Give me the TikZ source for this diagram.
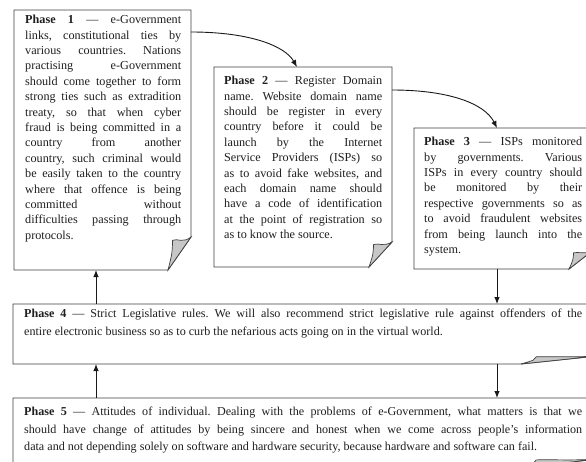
\documentclass[tikz,border=0pt]{standalone}
\usepackage{fontspec}
\setmainfont{Liberation Serif}
\usetikzlibrary{calc,arrows.meta}
\newcommand\curlbox[3]{%
  \draw[outline] (#1.north west) -- (#1.north east) -- ($(#1.south east)+(0pt,#3pt)$) -- ($(#1.south east)+(-#2pt,0pt)$) -- (#1.south west) -- cycle;
  \draw[foldfill] ($(#1.south east)+(-#2pt,0pt)$) -- ($(#1.south east)+(0pt,#3pt)$)
     .. controls ($(#1.south east)+(-0.35*#2pt,0.8*#3pt)$) and ($(#1.south east)+(-0.6*#2pt,0.97*#3pt)$) .. ($(#1.south east)+(-0.8*#2pt,0.9*#3pt)$)
     .. controls ($(#1.south east)+(-0.82*#2pt,0.5*#3pt)$) .. cycle;
}
\begin{document}
\frenchspacing
\begin{tikzpicture}[x=1pt,y=-1pt,
  boxframe/.style={draw=none, fill=none, inner sep=0pt, outer sep=0pt, anchor=north west},
  boxtext/.style={inner sep=0pt, anchor=north west, align=justify, font=\fontsize{12.2}{15.4}\selectfont, text=black!88},
  widetext/.style={boxtext, font=\fontsize{12.1}{17.5}\selectfont},
  outline/.style={draw=black!75, line width=0.9pt, fill=white},
  foldfill/.style={draw=black!75, line width=0.7pt, fill=black!22},
  conn/.style={draw=black!90, line width=0.9pt, -{Latex[length=7pt,width=5.5pt]}},
]
\useasboundingbox (0,0) rectangle (586,461);
\clip (0,0) rectangle (586,461);
\fill[white] (0,0) rectangle (586,461);

% box frames
\node[boxframe, minimum width=177pt, minimum height=260pt] (p1) at (14,10) {};
\node[boxframe, minimum width=178pt, minimum height=200pt] (p2) at (214,67) {};
\node[boxframe, minimum width=178pt, minimum height=141pt] (p3) at (414,128) {};
\node[boxframe, minimum width=584pt, minimum height=60pt] (p4) at (13,304) {};
\node[boxframe, minimum width=584pt, minimum height=70pt] (p5) at (13,398) {};

\curlbox{p1}{23}{33}
\curlbox{p2}{23}{25}
\curlbox{p3}{23}{18}
\curlbox{p4}{76}{8}
\curlbox{p5}{76}{9}

% texts
\tolerance=10000 \emergencystretch=20pt
\node[boxtext, text width=156pt] (t1) at (25,15) {\textbf{Phase 1} — e-Government\linebreak
links, constitutional ties by\linebreak
various countries. Nations\linebreak
practising e-Government\linebreak
should come together to form\linebreak
strong ties such as extradition\linebreak
treaty, so that when cyber\linebreak
fraud is being committed in a\linebreak
country from another\linebreak
country, such criminal would\linebreak
be easily taken to the country\linebreak
where that offence is being\linebreak
committed without\linebreak
difficulties passing through\linebreak
protocols.};

\node[boxtext, text width=158pt] (t2) at (224,76) {\textbf{Phase 2} — Register Domain\linebreak
name. Website domain name\linebreak
should be register in every\linebreak
country before it could be\linebreak
launch by the Internet\linebreak
Service Providers (ISPs) so\linebreak
as to avoid fake websites, and\linebreak
each domain name should\linebreak
have a code of identification\linebreak
at the point of registration so\linebreak
as to know the source.};

\node[boxtext, text width=158pt] (t3) at (424,137) {\textbf{Phase 3} — ISPs monitored\linebreak
by governments. Various\linebreak
ISPs in every country should\linebreak
be monitored by their\linebreak
respective governments so as\linebreak
to avoid fraudulent websites\linebreak
from being launch into the\linebreak
system.};

\node[widetext, text width=558pt] (t4) at (24,309) {\textbf{Phase 4} — Strict Legislative rules. We will also recommend strict legislative rule against offenders of the\linebreak
entire electronic business so as to curb the nefarious acts going on in the virtual world.};

\node[widetext, text width=558pt] (t5) at (24,407) {\textbf{Phase 5} — Attitudes of individual. Dealing with the problems of e-Government, what matters is that we\linebreak
should have change of attitudes by being sincere and honest when we come across people’s information\linebreak
data and not depending solely on software and hardware security, because hardware and software can fail.};

% connectors
\coordinate (cR) at (497,0);
\coordinate (cL) at (96,0);
\draw[conn] ($(p1.north east)+(0pt,-22pt)$) .. controls (250,32) and (285,46) .. ($(p2.north)+(-6pt,0pt)$);
\draw[conn] ($(p2.north east)+(0pt,-23pt)$) .. controls (450,90) and (485,104) .. ($(p3.north)+(-6pt,0pt)$);
\draw[conn] (p3.south -| cR) -- (p4.north -| cR);
\draw[conn] (p4.south -| cR) -- (p5.north -| cR);
\draw[conn] (p4.north -| cL) -- (p1.south -| cL);
\draw[conn] (p5.north -| cL) -- (p4.south -| cL);
\end{tikzpicture}
\end{document}
